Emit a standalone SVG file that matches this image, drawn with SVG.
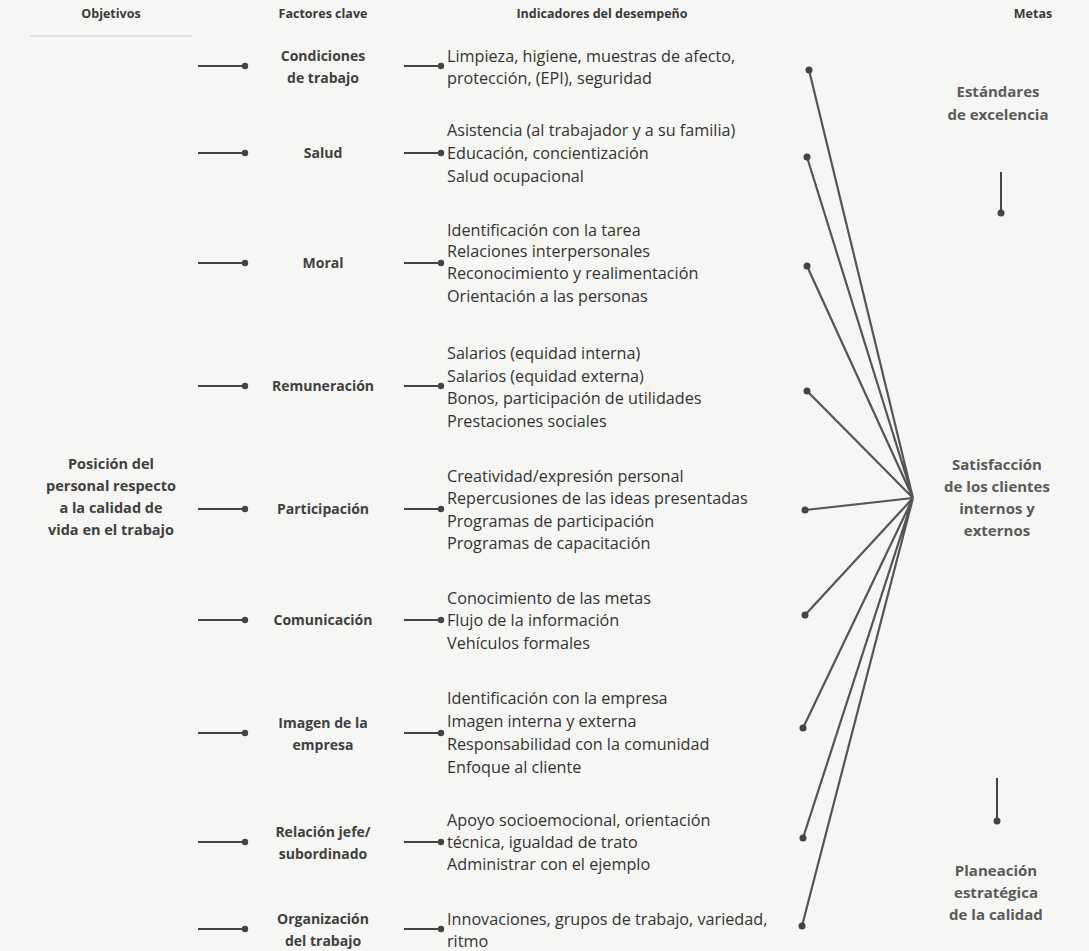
<svg xmlns="http://www.w3.org/2000/svg" width="1089" height="951" viewBox="0 0 1089 951">
<defs>
<style>
.bg{fill:#f6f6f4}
.h{font-family:"Open Sans","Liberation Sans",sans-serif;font-weight:bold;font-size:12.5px;fill:#3a3a3a;text-anchor:middle}
.f{font-family:"Open Sans","Liberation Sans",sans-serif;font-weight:bold;font-size:14px;fill:#404040;text-anchor:middle}
.o{font-family:"Open Sans","Liberation Sans",sans-serif;font-weight:bold;font-size:14.5px;fill:#404040;text-anchor:middle}
.i{font-family:"Open Sans","Liberation Sans",sans-serif;font-size:16.2px;fill:#333}
.m{font-family:"Open Sans","Liberation Sans",sans-serif;font-weight:bold;font-size:15px;fill:#5a5a5a;text-anchor:middle}
.c{stroke:#444;stroke-width:2;fill:none}
.r{stroke:#555;stroke-width:2.2;fill:none}
.d{fill:#444}
</style>
</defs>
<rect class="bg" x="0" y="0" width="1089" height="951"/>
<g id="headers">
<text class="h" x="111" y="18">Objetivos</text>
<text class="h" x="323" y="18">Factores clave</text>
<text class="h" x="602" y="18">Indicadores del desempeño</text>
<text class="h" x="1033" y="18">Metas</text>
<line x1="30" y1="36" x2="192" y2="36" stroke="#d0d0d0" stroke-width="1"/>
</g>
<g id="objetivo">
<text class="o" x="111" y="469">Posición del</text>
<text class="o" x="111" y="491">personal respecto</text>
<text class="o" x="111" y="513">a la calidad de</text>
<text class="o" x="111" y="535">vida en el trabajo</text>
</g>
<g id="f1"><text class="f" x="323" y="61">Condiciones</text><text class="f" x="323" y="83">de trabajo</text></g>
<g id="f2"><text class="f" x="323" y="158">Salud</text></g>
<g id="f3"><text class="f" x="323" y="268">Moral</text></g>
<g id="f4"><text class="f" x="323" y="391">Remuneración</text></g>
<g id="f5"><text class="f" x="323" y="514">Participación</text></g>
<g id="f6"><text class="f" x="323" y="625">Comunicación</text></g>
<g id="f7"><text class="f" x="323" y="728">Imagen de la</text><text class="f" x="323" y="750">empresa</text></g>
<g id="f8"><text class="f" x="323" y="837">Relación jefe/</text><text class="f" x="323" y="859">subordinado</text></g>
<g id="f9"><text class="f" x="323" y="924">Organización</text><text class="f" x="323" y="946">del trabajo</text></g>
<g id="i1"><text class="i" x="447" y="62">Limpieza, higiene, muestras de afecto,</text><text class="i" x="447" y="84">protección, (EPI), seguridad</text></g>
<g id="i2"><text class="i" x="447" y="136">Asistencia (al trabajador y a su familia)</text><text class="i" x="447" y="159">Educación, concientización</text><text class="i" x="447" y="182">Salud ocupacional</text></g>
<g id="i3"><text class="i" x="447" y="236">Identificación con la tarea</text><text class="i" x="447" y="257">Relaciones interpersonales</text><text class="i" x="447" y="279">Reconocimiento y realimentación</text><text class="i" x="447" y="302">Orientación a las personas</text></g>
<g id="i4"><text class="i" x="447" y="359">Salarios (equidad interna)</text><text class="i" x="447" y="382">Salarios (equidad externa)</text><text class="i" x="447" y="404">Bonos, participación de utilidades</text><text class="i" x="447" y="427">Prestaciones sociales</text></g>
<g id="i5"><text class="i" x="447" y="482">Creatividad/expresión personal</text><text class="i" x="447" y="504">Repercusiones de las ideas presentadas</text><text class="i" x="447" y="527">Programas de participación</text><text class="i" x="447" y="549">Programas de capacitación</text></g>
<g id="i6"><text class="i" x="447" y="604">Conocimiento de las metas</text><text class="i" x="447" y="626">Flujo de la información</text><text class="i" x="447" y="649">Vehículos formales</text></g>
<g id="i7"><text class="i" x="447" y="704">Identificación con la empresa</text><text class="i" x="447" y="727">Imagen interna y externa</text><text class="i" x="447" y="750">Responsabilidad con la comunidad</text><text class="i" x="447" y="773">Enfoque al cliente</text></g>
<g id="i8"><text class="i" x="447" y="826">Apoyo socioemocional, orientación</text><text class="i" x="447" y="848">técnica, igualdad de trato</text><text class="i" x="447" y="870">Administrar con el ejemplo</text></g>
<g id="i9"><text class="i" x="447" y="925">Innovaciones, grupos de trabajo, variedad,</text><text class="i" x="447" y="947">ritmo</text></g>
<g id="m1"><text class="m" x="998" y="97">Estándares</text><text class="m" x="998" y="120">de excelencia</text></g>
<g id="m2"><text class="m" x="997" y="470">Satisfacción</text><text class="m" x="997" y="492">de los clientes</text><text class="m" x="997" y="514">internos y</text><text class="m" x="997" y="536">externos</text></g>
<g id="m3"><text class="m" x="996" y="876">Planeación</text><text class="m" x="996" y="898">estratégica</text><text class="m" x="996" y="920">de la calidad</text></g>
<g id="connectors">
<g class="c">
<path d="M198 66H244M404 66H440"/>
<path d="M198 153H244M404 153H440"/>
<path d="M198 263H244M404 263H440"/>
<path d="M198 386H244M404 386H440"/>
<path d="M198 509H244M404 509H440"/>
<path d="M198 620H244M404 620H440"/>
<path d="M198 733H244M404 733H440"/>
<path d="M198 842H244M404 842H440"/>
<path d="M198 929H244M404 929H440"/>
<path d="M1001 172V212M997 778V820"/>
</g>
<g class="d">
<circle cx="245" cy="66" r="3.2"/><circle cx="441" cy="66" r="3.2"/>
<circle cx="245" cy="153" r="3.2"/><circle cx="441" cy="153" r="3.2"/>
<circle cx="245" cy="263" r="3.2"/><circle cx="441" cy="263" r="3.2"/>
<circle cx="245" cy="386" r="3.2"/><circle cx="441" cy="386" r="3.2"/>
<circle cx="245" cy="509" r="3.2"/><circle cx="441" cy="509" r="3.2"/>
<circle cx="245" cy="620" r="3.2"/><circle cx="441" cy="620" r="3.2"/>
<circle cx="245" cy="733" r="3.2"/><circle cx="441" cy="733" r="3.2"/>
<circle cx="245" cy="842" r="3.2"/><circle cx="441" cy="842" r="3.2"/>
<circle cx="245" cy="929" r="3.2"/><circle cx="441" cy="929" r="3.2"/>
<circle cx="1001" cy="213" r="3.5"/><circle cx="997" cy="821" r="3.5"/>
</g>
<g class="r">
<path d="M913 498L809 70M913 498L807 157M913 498L807 266M913 498L807 391M913 498L805 510M913 498L805 615M913 498L803 728M913 498L803 838M913 498L802 926"/>
</g>
<g class="d">
<circle cx="809" cy="70" r="3.5"/><circle cx="807" cy="157" r="3.5"/><circle cx="807" cy="266" r="3.5"/><circle cx="807" cy="391" r="3.5"/><circle cx="805" cy="510" r="3.5"/><circle cx="805" cy="615" r="3.5"/><circle cx="803" cy="728" r="3.5"/><circle cx="803" cy="838" r="3.5"/><circle cx="802" cy="926" r="3.5"/>
</g>
</g>
</svg>
